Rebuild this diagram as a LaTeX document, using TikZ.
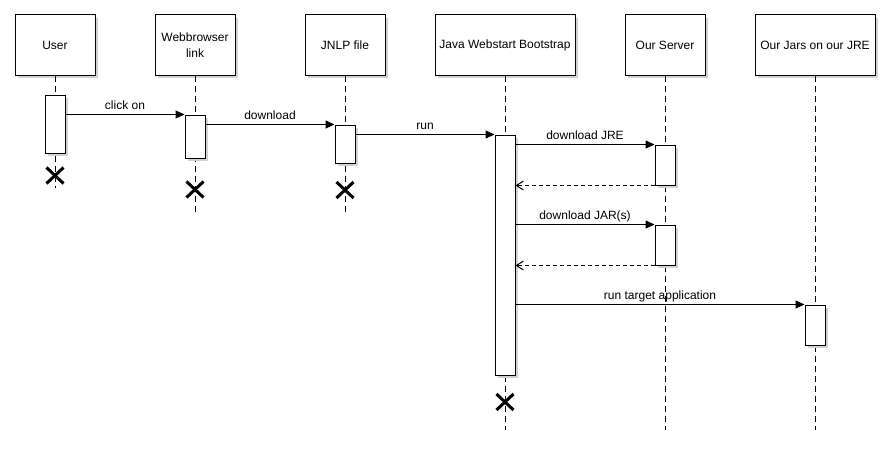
\documentclass[tikz,border=0pt]{standalone}
\usepackage{fontspec}
\setmainfont{Liberation Sans}
\usetikzlibrary{arrows.meta,shadows,shapes.misc}

\begin{document}
\begin{tikzpicture}[x=1pt,y=-1pt,
  actor/.style={draw,fill=white,line width=1pt,minimum height=60pt,inner sep=2pt,align=center,
    font=\fontsize{12}{16}\selectfont,
    drop shadow={shadow xshift=3pt,shadow yshift=-3pt,fill=gray!35,opacity=1}},
  bar/.style={draw,fill=white,line width=1pt,minimum width=20pt,inner sep=0pt,
    drop shadow={shadow xshift=3pt,shadow yshift=-3pt,fill=gray!35,opacity=1}},
  lifeline/.style={line width=1pt,dash pattern=on 6pt off 4pt},
  msg/.style={line width=1pt,-{Triangle[length=9pt,width=8pt]}},
  reply/.style={line width=1pt,dash pattern=on 4pt off 3pt,-{Straight Barb[length=7pt,width=9pt]}},
  lbl/.style={midway,anchor=base,yshift=5pt,inner sep=0pt,font=\fontsize{12}{14}\selectfont},
  kill/.style={cross out,draw,line width=3pt,minimum width=14pt,minimum height=13pt,inner sep=0pt}]
\useasboundingbox (0,0) rectangle (893,452);

% participants
\node[actor,minimum width=80pt] (user) at (55,45) {User};
\node[actor,minimum width=80pt] (browser) at (195,45) {Webbrowser\\link};
\node[actor,minimum width=80pt] (jnlp) at (345,45) {JNLP file};
\node[actor,minimum width=140pt] (jws) at (505,45) {Java Webstart Bootstrap};
\node[actor,minimum width=80pt] (server) at (665,45) {Our Server};
\node[actor,minimum width=120pt] (jars) at (815,45) {Our Jars on our JRE};

% lifeline ends
\coordinate (user-end) at (55,188);
\coordinate (browser-end) at (195,213);
\coordinate (jnlp-end) at (345,213);
\coordinate (jws-end) at (505,430);
\coordinate (server-end) at (665,430);
\coordinate (jars-end) at (815,430);
\foreach \p in {user,browser,jnlp,jws,server,jars}
  \draw[lifeline] (\p.south) -- (\p-end);

% activations
\node[bar,minimum height=58pt] (userbar) at (55,124) {};
\node[bar,minimum height=43pt] (browserbar) at (195,136.5) {};
\node[bar,minimum height=38pt] (jnlpbar) at (345,144) {};
\node[bar,minimum height=240pt] (jwsbar) at (505,255) {};
\node[bar,minimum height=40pt] (serverbarA) at (665,165) {};
\node[bar,minimum height=40pt] (serverbarB) at (665,245) {};
\node[bar,minimum height=40pt] (jarsbar) at (815,325) {};

% messages
\draw[msg] (userbar.east |- browserbar.north) -- (browserbar.north west) node[lbl] {click on};
\draw[msg] (browserbar.east |- jnlpbar.north) -- (jnlpbar.north west) node[lbl] {download};
\draw[msg] (jnlpbar.east |- jwsbar.north) -- (jwsbar.north west) node[lbl] {run};
\draw[msg] (jwsbar.east |- serverbarA.north) -- (serverbarA.north west) node[lbl] {download JRE};
\draw[reply] (serverbarA.south west) -- (jwsbar.east |- serverbarA.south);
\draw[msg] (jwsbar.east |- serverbarB.north) -- (serverbarB.north west) node[lbl] {download JAR(s)};
\draw[reply] (serverbarB.south west) -- (jwsbar.east |- serverbarB.south);
\draw[msg] (jwsbar.east |- jarsbar.north) -- (jarsbar.north west) node[lbl] {run target application};

% destroyed
\node[kill] (userx) at (55,175.5) {};
\node[kill] (browserx) at (195,189.5) {};
\node[kill] (jnlpx) at (345,190) {};
\node[kill] (jwsx) at (505,402) {};
\end{tikzpicture}
\end{document}
